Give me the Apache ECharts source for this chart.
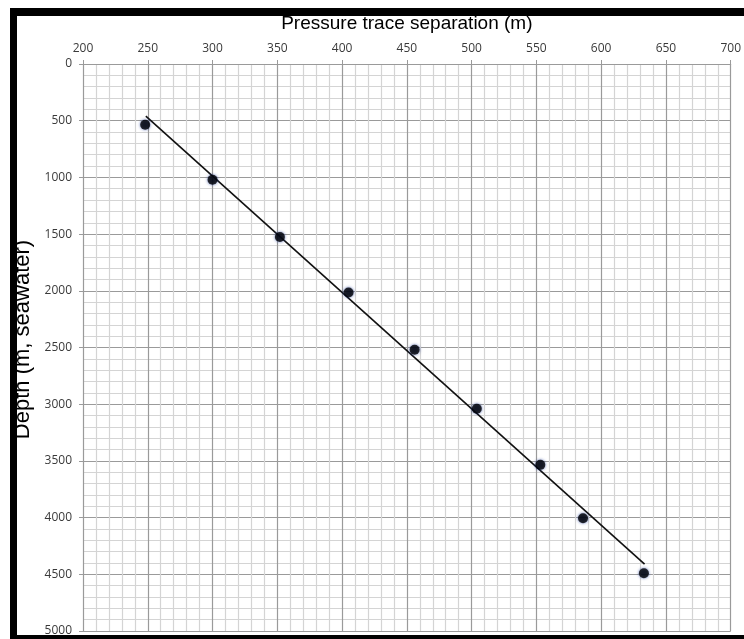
<!DOCTYPE html>
<html>
<head>
<meta charset="utf-8">
<script src="https://cdn.jsdelivr.net/npm/echarts@6/dist/echarts.min.js"></script>
<style>
  html, body { margin: 0; padding: 0; background: #fff; }
  #main { width: 744px; height: 639px; }
</style>
</head>
<body>
<div id="main"></div>
<script>
// measured points: pressure trace separation (m) vs depth (m)
var separation = [248, 300, 352, 405, 456, 504, 553, 586, 633];
var depth = [535, 1020, 1525, 2015, 2520, 3040, 3535, 4005, 4490];
// fitted line end points
var fitSeparation = [248.5, 633.5];
var fitDepth = [460, 4410];

var myChart = echarts.init(document.getElementById('main'));

var pointData = [];
for (var i = 0; i < separation.length; i++) {
  pointData.push([separation[i], depth[i]]);
}
var fitData = [];
for (var i = 0; i < fitSeparation.length; i++) {
  fitData.push([fitSeparation[i], fitDepth[i]]);
}

var labelFont = {
  color: '#3a3a3a',
  fontSize: 12,
  fontFamily: 'Open Sans'
};

var option = {
  backgroundColor: '#fff',
  animation: false,
  grid: {
    left: 83,
    top: 64,
    right: 5,
    bottom: 8
  },
  xAxis: {
    type: 'value',
    position: 'top',
    min: 200,
    max: 700,
    interval: 50,
    name: 'Pressure trace separation (m)',
    nameLocation: 'middle',
    nameGap: 31,
    nameTextStyle: { color: '#000', fontSize: 19, fontFamily: 'Liberation Sans' },
    axisLine: { show: true, lineStyle: { color: '#9a9a9a', width: 1 } },
    axisTick: { show: true, length: 4, lineStyle: { color: '#9a9a9a' } },
    axisLabel: Object.assign({ margin: 9 }, labelFont),
    splitLine: { show: true, lineStyle: { color: '#9a9a9a', width: 1.2 } },
    minorTick: { show: false, splitNumber: 5 },
    minorSplitLine: { show: true, lineStyle: { color: '#d4d4d4', width: 1.2 } }
  },
  yAxis: {
    type: 'value',
    inverse: true,
    min: 0,
    max: 5000,
    interval: 500,
    name: 'Depth (m, seawater)',
    nameLocation: 'middle',
    nameGap: 48,
    nameTextStyle: { color: '#000', fontSize: 22, fontFamily: 'Liberation Sans', padding: [0, 0, 0, 16] },
    axisLine: { show: true, lineStyle: { color: '#9a9a9a', width: 1 } },
    axisTick: { show: true, length: 4, lineStyle: { color: '#9a9a9a' } },
    axisLabel: Object.assign({
      margin: 11,
      formatter: function(v) { return String(v); }
    }, labelFont),
    splitLine: { show: true, lineStyle: { color: '#9a9a9a', width: 1.2 } },
    minorTick: { show: false, splitNumber: 5 },
    minorSplitLine: { show: true, lineStyle: { color: '#d4d4d4', width: 1.2 } }
  },
  series: [{
    type: 'line',
    data: fitData,
    showSymbol: false,
    symbol: 'none',
    lineStyle: { color: '#111', width: 1.6 },
    z: 3
  }, {
    type: 'scatter',
    data: pointData,
    symbolSize: 10,
    itemStyle: {
      color: '#000',
      shadowColor: 'rgba(20,50,150,0.85)',
      shadowBlur: 3
    },
    z: 4
  }],
  // black frame round the picture
  graphic: [
    { type: 'rect', shape: { x: 10, y: 8, width: 734, height: 8 }, style: { fill: '#000' }, z: -10 },
    { type: 'rect', shape: { x: 10, y: 8, width: 7, height: 631 }, style: { fill: '#000' }, z: -10 },
    { type: 'rect', shape: { x: 10, y: 635, width: 734, height: 4 }, style: { fill: '#000' }, z: -10 }
  ]
};

myChart.setOption(option);
</script>
</body>
</html>
